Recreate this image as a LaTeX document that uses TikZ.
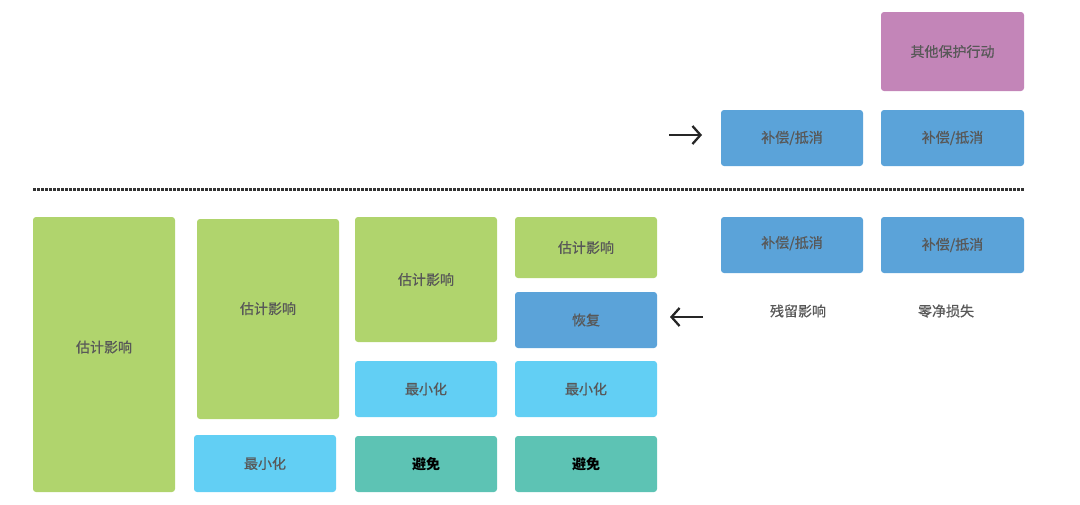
\documentclass[tikz,border=0pt]{standalone}
\usepackage{fontspec}
\setmainfont{Noto Sans CJK SC}
\newfontfamily\semib{Noto Sans CJK SC}[FakeBold=0.7]
\usetikzlibrary{arrows.meta}
\definecolor{cgreen}{HTML}{B0D46D}
\definecolor{clight}{HTML}{62CFF4}
\definecolor{cteal}{HTML}{5DC3B4}
\definecolor{cblue}{HTML}{5BA3D9}
\definecolor{cmag}{HTML}{C385B8}
\definecolor{ctext}{HTML}{585858}
\tikzset{
  box/.style={rectangle, rounded corners=3pt, inner sep=0pt, minimum width=142pt, minimum height=56pt, text=ctext, font=\semib\fontsize{14pt}{16pt}\selectfont},
  gbox/.style={box, fill=cgreen},
  lbox/.style={box, fill=clight},
  tbox/.style={box, fill=cteal, text=black, font=\fontsize{14pt}{16pt}\selectfont\bfseries},
  bbox/.style={box, fill=cblue},
  mbox/.style={box, fill=cmag},
  plain/.style={text=ctext, font=\semib\fontsize{14pt}{16pt}\selectfont},
  arr/.style={line width=2.3pt, -{Straight Barb[length=8pt,width=18pt,line width=2.3pt]}, black!85},
  dots/.style={line width=2.5pt, dash pattern=on 2.5pt off 1.5pt, black!80}
}
\begin{document}
\begin{tikzpicture}[x=1pt,y=-1pt]
\useasboundingbox (0,0) rectangle (1080,504);
% top
\node[mbox, minimum width=143pt, minimum height=79pt] (mag) at (952.5,51.5) {其他保护行动};
\node[bbox] (ta) at (792,138) {补偿/抵消};
\node[bbox, minimum width=143pt] (tb) at (952.5,138) {补偿/抵消};
\coordinate (ra1) at (669,135);
\coordinate (ra2) at (702,135);
\draw[arr] (ra1) -- (ra2);
% divider
\coordinate (d1) at (33,189.5);
\coordinate (d2) at (1025,189.5);
\draw[dots] (d1) -- (d2);
% col 1
\node[gbox, minimum height=275pt] (g1) at (104,354.5) {\raisebox{16pt}{估计影响}};
% col 2
\node[gbox, minimum height=200pt] (g2) at (268,319) {\raisebox{22pt}{估计影响}};
\node[lbox, minimum height=57pt] (m2) at (265,463.5) {最小化};
% col 3
\node[gbox, minimum height=125pt] (g3) at (426,279.5) {估计影响};
\node[lbox] (m3) at (426,389) {最小化};
\node[tbox] (a3) at (426,464) {避免};
% col 4
\node[gbox, minimum height=61pt] (g4) at (586,247.5) {估计影响};
\node[bbox] (r4) at (586,320) {恢复};
\node[lbox] (m4) at (586,389) {最小化};
\node[tbox] (a4) at (586,464) {避免};
\coordinate (la1) at (703,317);
\coordinate (la2) at (670,317);
\draw[arr] (la1) -- (la2);
% col 5,6
\node[bbox] (b5) at (792,245) {\raisebox{6pt}{补偿/抵消}};
\node[bbox, minimum width=143pt] (b6) at (952.5,245) {补偿/抵消};
\node[plain] (l5) at (798,311) {残留影响};
\node[plain] (l6) at (946,311) {零净损失};
\end{tikzpicture}
\end{document}
